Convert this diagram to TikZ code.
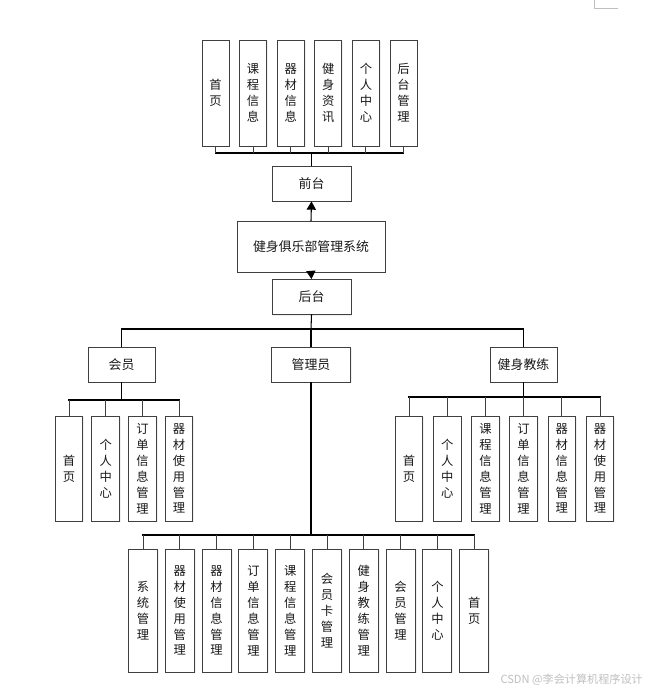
\documentclass[tikz,border=0pt]{standalone}
\usepackage{fontspec}
\setmainfont{Noto Sans CJK SC}
\usepackage{tikz}
\usetikzlibrary{arrows,shadows}
\definecolor{uququq}{rgb}{0.25,0.25,0.25}
\definecolor{bfbfbf}{rgb}{0.75,0.75,0.75}
\definecolor{qqqqqq}{rgb}{0.1,0.1,0.1}
\tikzset{
  bx/.style={draw=uququq,line width=0.8pt,fill=white,inner sep=0pt,align=center,
    text=qqqqqq,font=\fontsize{10.5}{13.6}\selectfont,
    drop shadow={opacity=0.12,shadow xshift=1.2pt,shadow yshift=-1.2pt}},
  hbx/.style={bx,minimum height=1.05cm,font=\fontsize{11}{13.6}\selectfont},
  vbx/.style={bx,minimum width=0.83cm,minimum height=3.15cm},
  lbx/.style={bx,minimum width=0.87cm,minimum height=3.69cm},
  stem/.style={line width=0.7pt,color=uququq},
  trunk/.style={line width=0.9pt,color=black}
}
\begin{document}
\begin{tikzpicture}[line cap=rect,line join=miter,>=triangle 60,x=0.03cm,y=-0.03cm]
\clip(0,0) rectangle (654,694);
% top row
\node[vbx,minimum width=0.81cm,minimum height=3.18cm] (t1) at (215.5,93) {首\\页};
\node[vbx,minimum width=0.81cm,minimum height=3.18cm] (t2) at (253.1,93) {课\\程\\信\\息};
\node[vbx,minimum width=0.81cm,minimum height=3.18cm] (t3) at (290.7,93) {器\\材\\信\\息};
\node[vbx,minimum width=0.81cm,minimum height=3.18cm] (t4) at (328.3,93) {健\\身\\资\\讯};
\node[vbx,minimum width=0.81cm,minimum height=3.18cm] (t5) at (365.9,93) {个\\人\\中\\心};
\node[vbx,minimum width=0.81cm,minimum height=3.18cm] (t6) at (403.5,93) {后\\台\\管\\理};
\coordinate (tbus) at (310,153);
% middle
\node[hbx,minimum width=2.37cm] (qt) at (311.5,183.5) {前台};
\node[hbx,minimum width=4.44cm,minimum height=1.53cm] (sys) at (311,246.5) {健身俱乐部管理系统};
\node[hbx,minimum width=2.37cm] (ht) at (311.5,297) {后台};
\coordinate (rbus) at (311,329);
\node[hbx,minimum width=2.01cm] (hy) at (121.5,364.5) {会员};
\node[hbx,minimum width=2.37cm] (gly) at (311,364.5) {管理员};
\node[hbx,minimum width=2.01cm] (jl) at (523.5,364.5) {健身教练};
% member
\coordinate (hybus) at (121.5,400);
\node[vbx] (hy1) at (69,468.5) {首\\页};
\node[vbx] (hy2) at (105.7,468.5) {个\\人\\中\\心};
\node[vbx] (hy3) at (142.4,468.5) {订\\单\\信\\息\\管\\理};
\node[vbx] (hy4) at (179,468.5) {器\\材\\使\\用\\管\\理};
% coach
\coordinate (jlbus) at (523.5,397);
\node[vbx] (jl1) at (409,468.5) {首\\页};
\node[vbx] (jl2) at (447.2,468.5) {个\\人\\中\\心};
\node[vbx] (jl3) at (485.4,468.5) {课\\程\\信\\息\\管\\理};
\node[vbx] (jl4) at (523.6,468.5) {订\\单\\信\\息\\管\\理};
\node[vbx] (jl5) at (561.8,468.5) {器\\材\\信\\息\\管\\理};
\node[vbx] (jl6) at (600,468.5) {器\\材\\使\\用\\管\\理};
% admin
\coordinate (gbus) at (311,535);
\node[lbx] (g1) at (143,610.5) {系\\统\\管\\理};
\node[lbx] (g2) at (179.8,610.5) {器\\材\\使\\用\\管\\理};
\node[lbx] (g3) at (216.6,610.5) {器\\材\\信\\息\\管\\理};
\node[lbx] (g4) at (253.4,610.5) {订\\单\\信\\息\\管\\理};
\node[lbx] (g5) at (290.2,610.5) {课\\程\\信\\息\\管\\理};
\node[lbx] (g6) at (327,610.5) {会\\员\\卡\\管\\理};
\node[lbx] (g7) at (363.8,610.5) {健\\身\\教\\练\\管\\理};
\node[lbx] (g8) at (400.6,610.5) {会\\员\\管\\理};
\node[lbx] (g9) at (437.4,610.5) {个\\人\\中\\心};
\node[lbx] (g10) at (474.2,610.5) {首\\页};
% connectors
\draw[trunk] (tbus -| t1) -- (tbus -| t6);
\draw[stem] (t1) -- (tbus -| t1);
\draw[stem] (t2) -- (tbus -| t2);
\draw[stem] (t3) -- (tbus -| t3);
\draw[stem] (t4) -- (tbus -| t4);
\draw[stem] (t5) -- (tbus -| t5);
\draw[stem] (t6) -- (tbus -| t6);
\draw[trunk] (qt.north) -- (qt.north |- tbus);
\draw[trunk,->] (sys.north) -- (qt.south);
\draw[trunk,->] (sys.south) -- (ht.north);
\draw[trunk] (ht.south) -- (rbus);
\draw[trunk] (rbus -| hy) -- (rbus -| jl);
\draw[trunk] (rbus -| hy) -- (hy.north);
\draw[trunk] (rbus -| gly) -- (gly.north);
\draw[trunk] (rbus -| jl) -- (jl.north);
\draw[trunk] (hy.south) -- (hybus);
\draw[trunk] (hybus -| hy1) -- (hybus -| hy4);
\draw[stem] (hybus -| hy1) -- (hy1.north);
\draw[stem] (hybus -| hy2) -- (hy2.north);
\draw[stem] (hybus -| hy3) -- (hy3.north);
\draw[stem] (hybus -| hy4) -- (hy4.north);
\draw[trunk] (jl.south) -- (jlbus);
\draw[trunk] (jlbus -| jl1) -- (jlbus -| jl6);
\draw[stem] (jlbus -| jl1) -- (jl1.north);
\draw[stem] (jlbus -| jl2) -- (jl2.north);
\draw[stem] (jlbus -| jl3) -- (jl3.north);
\draw[stem] (jlbus -| jl4) -- (jl4.north);
\draw[stem] (jlbus -| jl5) -- (jl5.north);
\draw[stem] (jlbus -| jl6) -- (jl6.north);
\draw[trunk,line width=1.5pt] (gly.south) -- (gbus);
\draw[trunk] (gbus -| g1) -- (gbus -| g10);
\draw[stem] (gbus -| g1) -- (g1.north);
\draw[stem] (gbus -| g2) -- (g2.north);
\draw[stem] (gbus -| g3) -- (g3.north);
\draw[stem] (gbus -| g4) -- (g4.north);
\draw[stem] (gbus -| g5) -- (g5.north);
\draw[stem] (gbus -| g6) -- (g6.north);
\draw[stem] (gbus -| g7) -- (g7.north);
\draw[stem] (gbus -| g8) -- (g8.north);
\draw[stem] (gbus -| g9) -- (g9.north);
\draw[stem] (gbus -| g10) -- (g10.north);
% page corner and watermark
\coordinate (pc) at (594,8);
\draw[color=bfbfbf,line width=0.8pt] (pc |- 0,0) -- (pc) -- ++(24,0);
\node[text=bfbfbf,font=\fontsize{9.5}{11}\selectfont,anchor=east] (wm) at (647,680) {CSDN @李会计算机程序设计};
\end{tikzpicture}
\end{document}
